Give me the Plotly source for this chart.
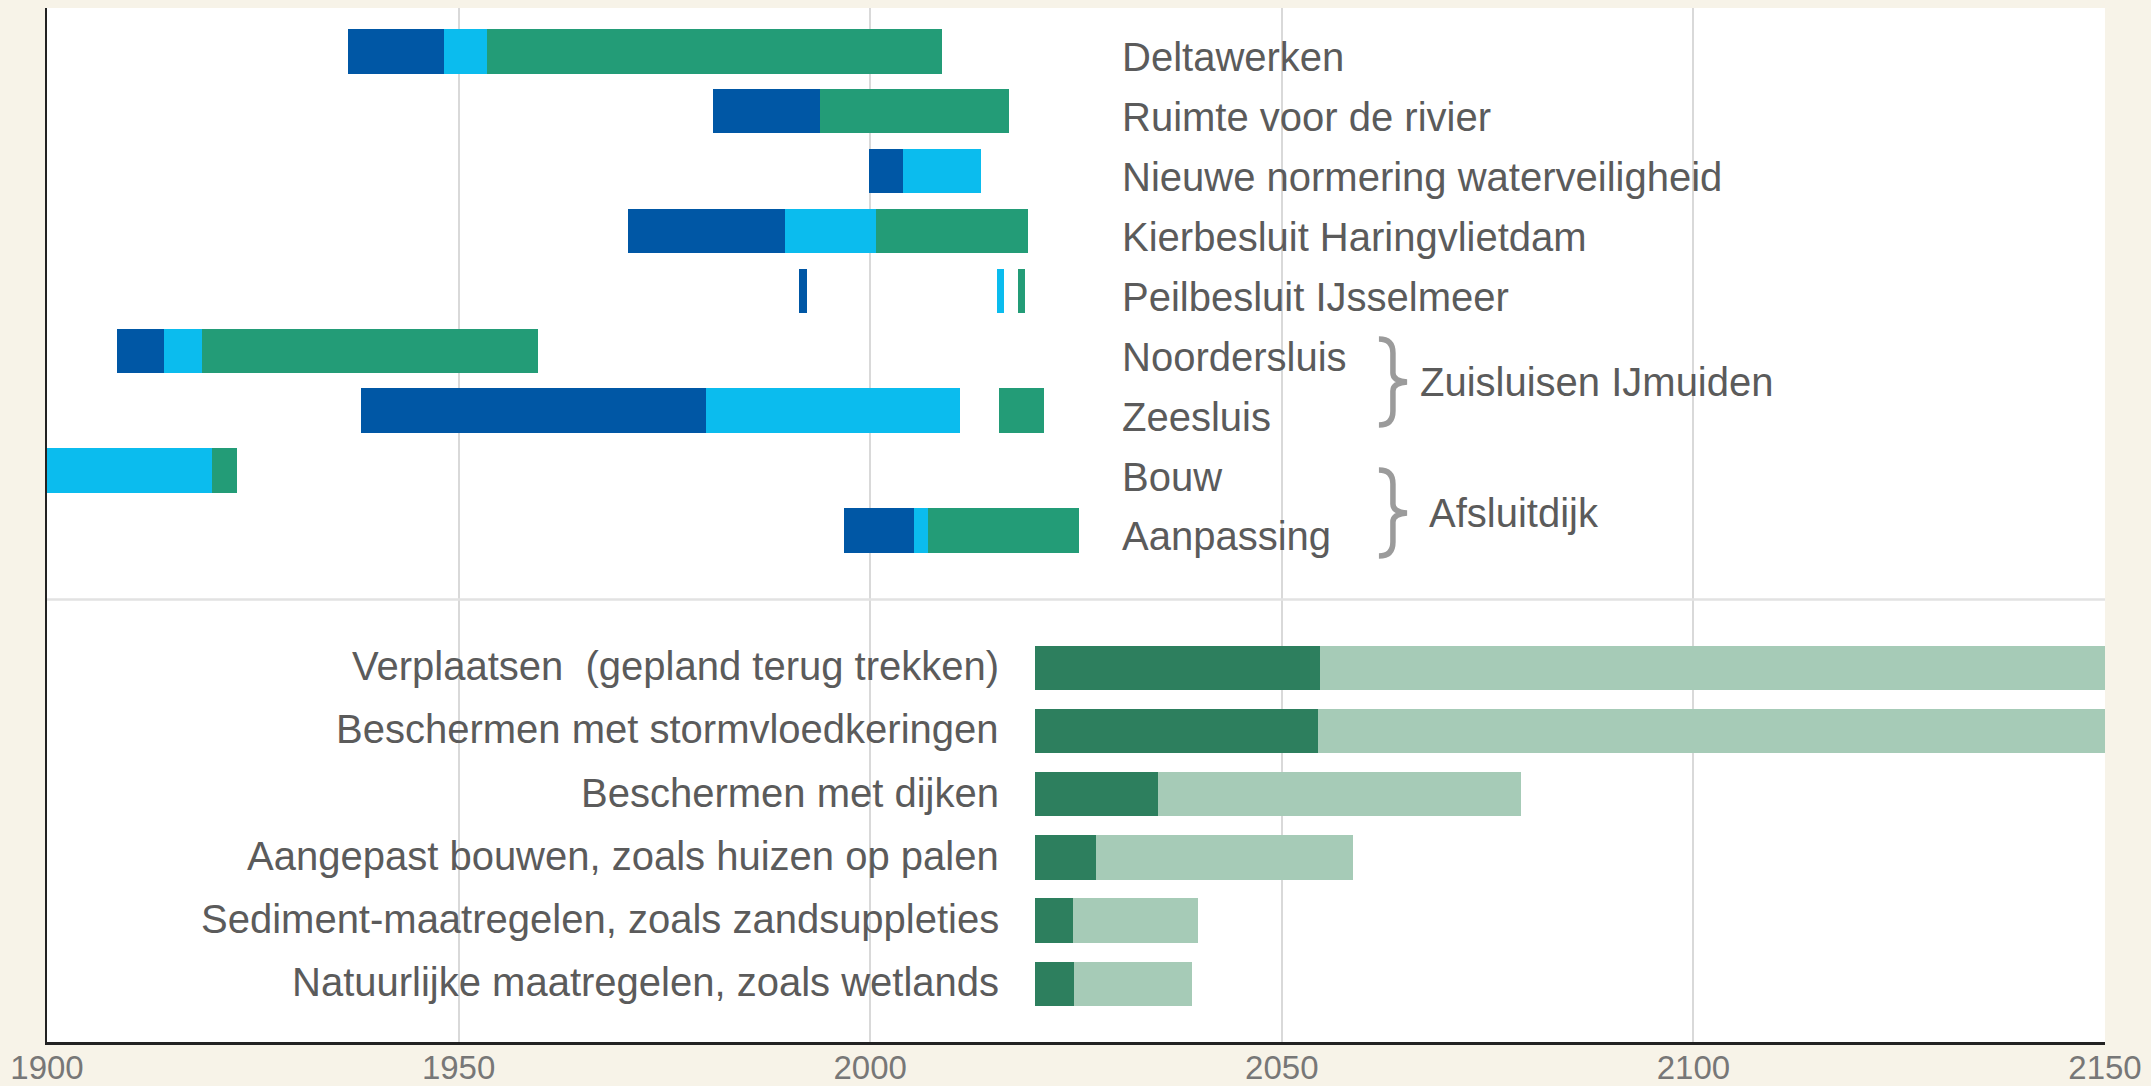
import plotly.graph_objects as go
from plotly.subplots import make_subplots

# ---- data (years) ----
TOP_ROWS = [
    "Deltawerken",
    "Ruimte voor de rivier",
    "Nieuwe normering waterveiligheid",
    "Kierbesluit Haringvlietdam",
    "Peilbesluit IJsselmeer",
    "Noordersluis",
    "Zeesluis",
    "Bouw",
    "Aanpassing",
]

# (start, end) per row; None where a phase is missing
PHASE_DARK = [(1936.6, 1948.2), (1980.9, 1993.9), (1999.8, 2004.0), (1970.6, 1989.7),
              (1991.4, 1992.3), (1908.5, 1914.2), (1938.1, 1980.0), None, (1996.8, 2005.3)]
PHASE_LIGHT = [(1948.2, 1953.4), None, (2004.0, 2013.4), (1989.7, 2000.7),
               (2015.4, 2016.2), (1914.2, 1918.8), (1980.0, 2010.9), (1900.0, 1920.0), (2005.3, 2007.0)]
PHASE_GREEN = [(1953.4, 2008.7), (1993.9, 2016.8), None, (2000.7, 2019.2),
               (2017.9, 2018.8), (1918.8, 1959.6), (2015.6, 2021.1), (1920.0, 1923.1), (2007.0, 2025.4)]

BOTTOM_ROWS = [
    "Verplaatsen\u00a0 (gepland terug trekken)",
    "Beschermen met stormvloedkeringen",
    "Beschermen met dijken",
    "Aangepast bouwen, zoals huizen op palen",
    "Sediment-maatregelen, zoals zandsuppleties",
    "Natuurlijke maatregelen, zoals wetlands",
]
BOTTOM_START = [2020, 2020, 2020, 2020, 2020, 2020]
BOTTOM_MID = [2054.6, 2054.4, 2034.9, 2027.4, 2024.6, 2024.8]
BOTTOM_END = [2150, 2150, 2079.1, 2058.7, 2039.8, 2039.1]

GROUPS = ["Zuisluisen IJmuiden", "Afsluitdijk"]
YEAR_TICKS = [1900, 1950, 2000, 2050, 2100, 2150]

# ---- style ----
COLORS = {"dark": "#0057a5", "light": "#0bbcee", "green": "#239c77",
          "deep": "#2d7f5e", "pale": "#a6cbb7"}
FONT = "Liberation Sans, Arial, sans-serif"
TXT = "#5b5b5b"
BG = "#f7f3e8"

fig = make_subplots(rows=2, cols=1, shared_xaxes=True, vertical_spacing=0,
                    row_heights=[0.572, 0.428])


def phase_trace(segments, color):
    rows, base, dur = [], [], []
    for row, seg in zip(TOP_ROWS, segments):
        if seg is None:
            continue
        rows.append(row)
        base.append(seg[0])
        dur.append(seg[1] - seg[0])
    return go.Bar(y=rows, x=dur, base=base, orientation="h", width=0.742,
                  marker=dict(color=color, line_width=0), showlegend=False,
                  hoverinfo="skip")


for segs, key in [(PHASE_DARK, "dark"), (PHASE_LIGHT, "light"), (PHASE_GREEN, "green")]:
    fig.add_trace(phase_trace(segs, COLORS[key]), row=1, col=1)

fig.add_trace(go.Bar(y=BOTTOM_ROWS, base=BOTTOM_START,
                     x=[m - s for m, s in zip(BOTTOM_MID, BOTTOM_START)],
                     orientation="h", width=0.70, showlegend=False, hoverinfo="skip",
                     marker=dict(color=COLORS["deep"], line_width=0)), row=2, col=1)
fig.add_trace(go.Bar(y=BOTTOM_ROWS, base=BOTTOM_MID,
                     x=[e - m for e, m in zip(BOTTOM_END, BOTTOM_MID)],
                     orientation="h", width=0.70, showlegend=False, hoverinfo="skip",
                     marker=dict(color=COLORS["pale"], line_width=0)), row=2, col=1)

# labels inside the plot
for row in TOP_ROWS:
    fig.add_annotation(x=2030.3, y=row, xref="x", yref="y", text=row, showarrow=False,
                       xanchor="left", yanchor="middle", yshift=-6,
                       font=dict(family=FONT, size=40, color=TXT))
for row in BOTTOM_ROWS:
    fig.add_annotation(x=2015.9, y=row, xref="x2", yref="y2", text=row, showarrow=False,
                       xanchor="right", yanchor="middle", yshift=2,
                       font=dict(family=FONT, size=40, color=TXT))

brace = "M -14,43 Q 0,43 0,29 L 0,9 Q 0,1 14,0 Q 0,-1 0,-9 L 0,-29 Q 0,-43 -14,-43"
for name, ypos, xtext in zip(GROUPS, [5.52, 7.71], [2066.5, 2067.6]):
    fig.add_shape(type="path", path=brace, xref="x", yref="y",
                  xsizemode="pixel", ysizemode="pixel", xanchor=2063.5, yanchor=ypos,
                  line=dict(color="#9b9b9b", width=5.5))
    fig.add_annotation(x=xtext, y=ypos, xref="x", yref="y", text=name, showarrow=False,
                       xanchor="left", yanchor="middle",
                       font=dict(family=FONT, size=40, color=TXT))

# separator between the two panels
fig.add_shape(type="line", xref="paper", yref="paper", x0=0, x1=1, y0=0.428, y1=0.428,
              line=dict(color="#e2e2e2", width=2.5))

fig.update_xaxes(range=[1900, 2150], tickvals=YEAR_TICKS, showgrid=True, automargin=False,
                 gridcolor="#d9d9d9", gridwidth=1.5, zeroline=False, ticks="")
fig.update_xaxes(showticklabels=False, showline=False, row=1, col=1)
fig.update_xaxes(showline=True, linecolor="#222222", linewidth=3, ticklabelstandoff=-6,
                 tickfont=dict(family=FONT, size=33, color="#777777"), row=2, col=1)

fig.update_yaxes(type="category", showticklabels=False, showgrid=False, zeroline=False,
                 automargin=False, showline=True, linecolor="#222222", linewidth=2, ticks="")
fig.update_yaxes(categoryarray=TOP_ROWS, range=[9.152, -0.724], row=1, col=1)
fig.update_yaxes(categoryarray=BOTTOM_ROWS, range=[5.913, -1.087], row=2, col=1)

fig.update_layout(
    width=2151, height=1086,
    margin=dict(l=47, r=46, t=8, b=44, autoexpand=False),
    paper_bgcolor=BG, plot_bgcolor="white",
    barmode="overlay", bargap=0,
    font=dict(family=FONT, color=TXT),
)

fig.write_html("out.html", config={"displayModeBar": False},
               post_script="document.body.style.margin='0';"
                           "document.body.style.background='" + BG + "';"
                           "document.body.style.overflow='hidden';")
